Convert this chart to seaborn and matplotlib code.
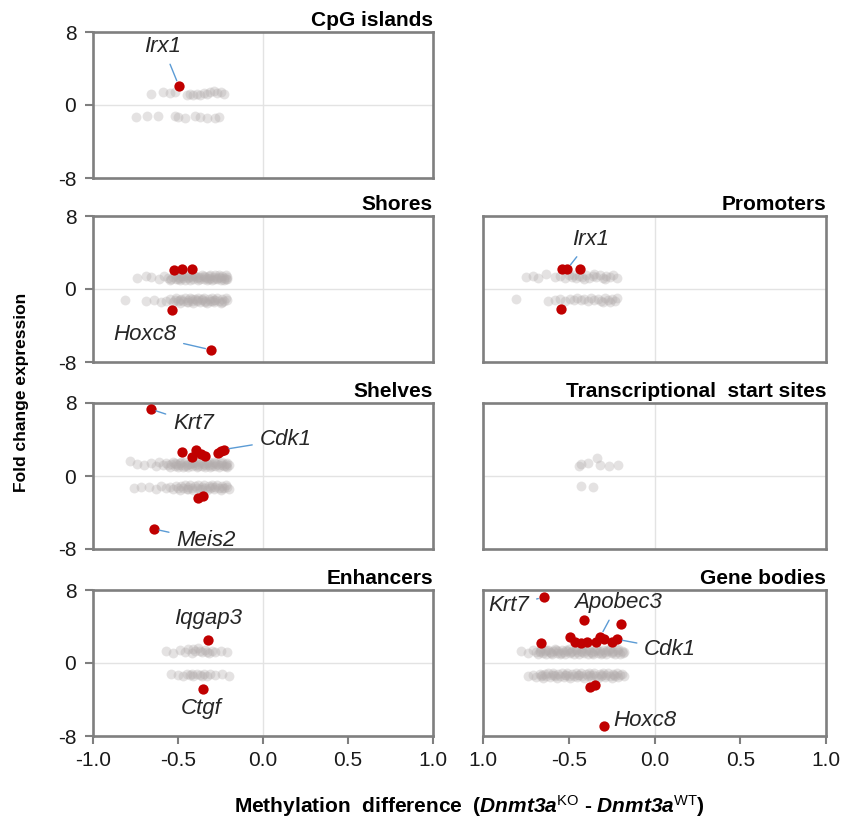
import matplotlib
matplotlib.use("Agg")
import matplotlib.pyplot as plt
import seaborn as sns

# ---- data ----
panel_titles = ["CpG islands", "Shores", "Promoters", "Shelves",
                "Transcriptional  start sites", "Enhancers", "Gene bodies"]

cpg_gray = [(-0.66, 1.2), (-0.59, 1.4), (-0.55, 1.3), (-0.52, 1.4), (-0.45, 1.1), (-0.43, 1.2),
            (-0.41, 1.1), (-0.39, 1.2), (-0.37, 1.1), (-0.35, 1.3), (-0.33, 1.2), (-0.31, 1.4),
            (-0.29, 1.5), (-0.27, 1.3), (-0.25, 1.4), (-0.23, 1.2),
            (-0.75, -1.3), (-0.68, -1.2), (-0.62, -1.2), (-0.52, -1.2), (-0.50, -1.3), (-0.46, -1.4),
            (-0.40, -1.2), (-0.37, -1.3), (-0.33, -1.4), (-0.28, -1.4), (-0.26, -1.3)]
cpg_red_x = [-0.495]
cpg_red_y = [2.1]

shores_gray = [(-0.74, 1.2), (-0.69, 1.4), (-0.66, 1.3), (-0.61, 1.1), (-0.58, 1.4), (-0.56, 1.2),
               (-0.55, 1.0), (-0.53, 1.3), (-0.52, 1.5), (-0.51, 1.1), (-0.50, 1.3), (-0.49, 1.0),
               (-0.48, 1.4), (-0.47, 1.2), (-0.46, 1.0), (-0.45, 1.5), (-0.44, 1.2), (-0.43, 1.0),
               (-0.42, 1.3), (-0.41, 1.1), (-0.40, 1.4), (-0.39, 1.2), (-0.38, 1.0), (-0.37, 1.3),
               (-0.36, 1.5), (-0.35, 1.1), (-0.34, 1.3), (-0.33, 1.0), (-0.32, 1.4), (-0.31, 1.2),
               (-0.30, 1.0), (-0.29, 1.3), (-0.28, 1.5), (-0.27, 1.1), (-0.26, 1.3), (-0.25, 1.0),
               (-0.24, 1.4), (-0.23, 1.2), (-0.22, 1.1), (-0.21, 1.3), (-0.54, 1.1), (-0.50, 1.1),
               (-0.47, 1.4), (-0.44, 1.3), (-0.41, 1.5), (-0.38, 1.3), (-0.35, 1.4), (-0.32, 1.1),
               (-0.29, 1.1), (-0.26, 1.5), (-0.23, 1.0), (-0.21, 1.1), (-0.49, 1.2), (-0.43, 1.4),
               (-0.37, 1.1), (-0.31, 1.5), (-0.25, 1.2), (-0.33, 1.2), (-0.27, 1.2), (-0.22, 1.5),
               (-0.81, -1.2), (-0.69, -1.3), (-0.64, -1.2), (-0.60, -1.4), (-0.57, -1.3), (-0.55, -1.1),
               (-0.53, -1.4), (-0.52, -1.2), (-0.51, -1.0), (-0.50, -1.3), (-0.49, -1.5), (-0.48, -1.1),
               (-0.47, -1.3), (-0.46, -1.0), (-0.45, -1.4), (-0.44, -1.2), (-0.43, -1.0), (-0.42, -1.3),
               (-0.41, -1.5), (-0.40, -1.1), (-0.39, -1.3), (-0.38, -1.0), (-0.37, -1.4), (-0.36, -1.2),
               (-0.35, -1.0), (-0.34, -1.3), (-0.33, -1.5), (-0.32, -1.1), (-0.31, -1.3), (-0.30, -1.0),
               (-0.29, -1.4), (-0.28, -1.2), (-0.27, -1.0), (-0.26, -1.3), (-0.25, -1.5), (-0.24, -1.1),
               (-0.23, -1.3), (-0.22, -1.0), (-0.21, -1.2), (-0.49, -1.2), (-0.44, -1.4), (-0.39, -1.2),
               (-0.34, -1.4), (-0.29, -1.2), (-0.24, -1.4), (-0.42, -1.1), (-0.36, -1.1), (-0.30, -1.3)]
shores_red_x = [-0.524, -0.478, -0.419, -0.534, -0.306]
shores_red_y = [2.05, 2.18, 2.2, -2.26, -6.67]

promoters_gray = [(-0.75, 1.3), (-0.71, 1.4), (-0.68, 1.2), (-0.63, 1.6), (-0.58, 1.3), (-0.55, 1.4),
                  (-0.52, 1.2), (-0.50, 1.5), (-0.48, 1.3), (-0.46, 1.2), (-0.44, 1.4), (-0.42, 1.3),
                  (-0.40, 1.5), (-0.38, 1.2), (-0.36, 1.4), (-0.34, 1.3), (-0.32, 1.5), (-0.30, 1.2),
                  (-0.28, 1.4), (-0.26, 1.3), (-0.24, 1.5), (-0.22, 1.2), (-0.47, 1.5), (-0.41, 1.1),
                  (-0.35, 1.6), (-0.29, 1.1),
                  (-0.81, -1.1), (-0.62, -1.3), (-0.58, -1.2), (-0.55, -1.1), (-0.52, -1.3), (-0.49, -1.1),
                  (-0.47, -1.2), (-0.45, -1.0), (-0.43, -1.2), (-0.41, -1.1), (-0.39, -1.3), (-0.37, -1.0),
                  (-0.35, -1.2), (-0.33, -1.1), (-0.31, -1.3), (-0.29, -1.0), (-0.27, -1.2), (-0.25, -1.1),
                  (-0.23, -1.3), (-0.22, -1.0), (-0.30, -1.4), (-0.26, -1.4)]
promoters_red_x = [-0.539, -0.510, -0.433, -0.543]
promoters_red_y = [2.17, 2.17, 2.2, -2.14]

shelves_gray = [(-0.78, 1.6), (-0.74, 1.3), (-0.70, 1.2), (-0.66, 1.4), (-0.63, 1.1), (-0.61, 1.5),
                (-0.59, 1.2), (-0.57, 1.4), (-0.55, 1.0), (-0.54, 1.3), (-0.53, 1.5), (-0.52, 1.1),
                (-0.51, 1.3), (-0.50, 1.0), (-0.49, 1.4), (-0.48, 1.2), (-0.47, 1.0), (-0.46, 1.5),
                (-0.45, 1.2), (-0.44, 1.0), (-0.43, 1.3), (-0.42, 1.1), (-0.41, 1.4), (-0.40, 1.2),
                (-0.39, 1.0), (-0.38, 1.3), (-0.37, 1.5), (-0.36, 1.1), (-0.35, 1.3), (-0.34, 1.0),
                (-0.33, 1.4), (-0.32, 1.2), (-0.31, 1.0), (-0.30, 1.3), (-0.29, 1.5), (-0.28, 1.1),
                (-0.27, 1.3), (-0.26, 1.0), (-0.25, 1.4), (-0.24, 1.2), (-0.23, 1.1), (-0.22, 1.3),
                (-0.21, 1.0), (-0.20, 1.2), (-0.56, 1.2), (-0.52, 1.4), (-0.48, 1.5), (-0.44, 1.3),
                (-0.40, 1.5), (-0.36, 1.4), (-0.32, 1.5), (-0.28, 1.4), (-0.24, 1.5), (-0.21, 1.4),
                (-0.50, 1.2), (-0.46, 1.1), (-0.42, 1.4), (-0.38, 1.1), (-0.34, 1.2), (-0.30, 1.1),
                (-0.26, 1.2), (-0.22, 1.1),
                (-0.76, -1.3), (-0.72, -1.2), (-0.67, -1.2), (-0.63, -1.4), (-0.60, -1.1), (-0.57, -1.3),
                (-0.55, -1.2), (-0.53, -1.4), (-0.51, -1.1), (-0.50, -1.3), (-0.49, -1.5), (-0.48, -1.1),
                (-0.47, -1.3), (-0.46, -1.0), (-0.45, -1.4), (-0.44, -1.2), (-0.43, -1.0), (-0.42, -1.3),
                (-0.41, -1.5), (-0.40, -1.1), (-0.39, -1.3), (-0.38, -1.0), (-0.37, -1.4), (-0.36, -1.2),
                (-0.35, -1.0), (-0.34, -1.3), (-0.33, -1.5), (-0.32, -1.1), (-0.31, -1.3), (-0.30, -1.0),
                (-0.29, -1.4), (-0.28, -1.2), (-0.27, -1.0), (-0.26, -1.3), (-0.25, -1.5), (-0.24, -1.1),
                (-0.23, -1.3), (-0.22, -1.0), (-0.21, -1.2), (-0.20, -1.4), (-0.44, -1.4), (-0.36, -1.4),
                (-0.30, -1.2), (-0.24, -1.3)]
shelves_red_x = [-0.661, -0.478, -0.394, -0.417, -0.364, -0.341, -0.267, -0.248, -0.232,
                 -0.384, -0.351, -0.643]
shelves_red_y = [7.33, 2.6, 2.8, 2.1, 2.36, 2.17, 2.47, 2.72, 2.9, -2.42, -2.17, -5.8]

tss_gray = [(-0.443, 1.14), (-0.43, 1.3), (-0.388, 1.42), (-0.335, 1.95), (-0.316, 1.25),
            (-0.267, 1.1), (-0.215, 1.25), (-0.43, -1.07), (-0.358, -1.17)]
tss_red_x = []
tss_red_y = []

enhancers_gray = [(-0.57, 1.3), (-0.53, 1.1), (-0.49, 1.4), (-0.46, 1.2), (-0.44, 1.5), (-0.42, 1.1),
                  (-0.40, 1.3), (-0.38, 1.6), (-0.36, 1.2), (-0.34, 1.4), (-0.32, 1.1), (-0.30, 1.3),
                  (-0.28, 1.2), (-0.25, 1.3), (-0.21, 1.2), (-0.41, 1.5), (-0.37, 1.3), (-0.33, 1.2),
                  (-0.54, -1.2), (-0.50, -1.3), (-0.47, -1.4), (-0.45, -1.2), (-0.43, -1.3), (-0.41, -1.4),
                  (-0.39, -1.2), (-0.37, -1.3), (-0.35, -1.2), (-0.33, -1.4), (-0.31, -1.2), (-0.28, -1.3),
                  (-0.24, -1.2), (-0.20, -1.4), (-0.42, -1.2), (-0.36, -1.4)]
enhancers_red_x = [-0.322, -0.355]
enhancers_red_y = [2.54, -2.8]

genebodies_gray = [(-0.78, 1.3), (-0.74, 1.1), (-0.71, 1.4), (-0.69, 1.2), (-0.68, 1.0), (-0.67, 1.3),
                   (-0.66, 1.5), (-0.65, 1.1), (-0.64, 1.3), (-0.63, 1.0), (-0.62, 1.4), (-0.61, 1.2),
                   (-0.60, 1.0), (-0.59, 1.3), (-0.58, 1.5), (-0.57, 1.1), (-0.56, 1.3), (-0.55, 1.0),
                   (-0.54, 1.4), (-0.53, 1.2), (-0.52, 1.0), (-0.51, 1.3), (-0.50, 1.5), (-0.49, 1.1),
                   (-0.48, 1.3), (-0.47, 1.0), (-0.46, 1.4), (-0.45, 1.2), (-0.44, 1.0), (-0.43, 1.3),
                   (-0.42, 1.5), (-0.41, 1.1), (-0.40, 1.3), (-0.39, 1.0), (-0.38, 1.4), (-0.37, 1.2),
                   (-0.36, 1.0), (-0.35, 1.3), (-0.34, 1.5), (-0.33, 1.1), (-0.32, 1.3), (-0.31, 1.0),
                   (-0.30, 1.4), (-0.29, 1.2), (-0.28, 1.0), (-0.27, 1.3), (-0.26, 1.5), (-0.25, 1.1),
                   (-0.24, 1.3), (-0.23, 1.0), (-0.22, 1.4), (-0.21, 1.2), (-0.20, 1.0), (-0.19, 1.3),
                   (-0.18, 1.2), (-0.665, 1.2), (-0.635, 1.4), (-0.605, 1.1), (-0.575, 1.4),
                   (-0.545, 1.1), (-0.515, 1.4), (-0.485, 1.2), (-0.455, 1.5), (-0.425, 1.2),
                   (-0.395, 1.5), (-0.365, 1.1), (-0.335, 1.4), (-0.305, 1.1), (-0.275, 1.4),
                   (-0.245, 1.2), (-0.215, 1.5), (-0.185, 1.1),
                   (-0.74, -1.4), (-0.71, -1.3), (-0.69, -1.5), (-0.67, -1.2), (-0.66, -1.4), (-0.65, -1.6),
                   (-0.64, -1.2), (-0.63, -1.4), (-0.62, -1.1), (-0.61, -1.5), (-0.60, -1.3), (-0.59, -1.1),
                   (-0.58, -1.4), (-0.57, -1.6), (-0.56, -1.2), (-0.55, -1.4), (-0.54, -1.1), (-0.53, -1.5),
                   (-0.52, -1.3), (-0.51, -1.1), (-0.50, -1.4), (-0.49, -1.6), (-0.48, -1.2), (-0.47, -1.4),
                   (-0.46, -1.1), (-0.45, -1.5), (-0.44, -1.3), (-0.43, -1.1), (-0.42, -1.4), (-0.41, -1.6),
                   (-0.40, -1.2), (-0.39, -1.4), (-0.38, -1.1), (-0.37, -1.5), (-0.36, -1.3), (-0.35, -1.1),
                   (-0.34, -1.4), (-0.33, -1.6), (-0.32, -1.2), (-0.31, -1.4), (-0.30, -1.1), (-0.29, -1.5),
                   (-0.28, -1.3), (-0.27, -1.1), (-0.26, -1.4), (-0.25, -1.6), (-0.24, -1.2), (-0.23, -1.4),
                   (-0.22, -1.1), (-0.21, -1.5), (-0.20, -1.3), (-0.19, -1.2), (-0.18, -1.4),
                   (-0.655, -1.3), (-0.585, -1.3), (-0.515, -1.3), (-0.445, -1.3), (-0.375, -1.3),
                   (-0.305, -1.3), (-0.235, -1.3)]
genebodies_red_x = [-0.646, -0.413, -0.196, -0.664, -0.49, -0.465, -0.43, -0.394, -0.34, -0.316,
                    -0.293, -0.248, -0.219, -0.374, -0.345, -0.297]
genebodies_red_y = [7.2, 4.7, 4.3, 2.14, 2.9, 2.3, 2.2, 2.25, 2.25, 2.9, 2.6, 2.25, 2.6,
                    -2.62, -2.36, -6.92]

# gene labels: (text, point x, point y, text x, text y, ha, draw line)
cpg_labels = [("Irx1", -0.495, 2.1, -0.589, 6.4, "center", True)]
shores_labels = [("Hoxc8", -0.306, -6.67, -0.51, -5.0, "right", True)]
promoters_labels = [("Irx1", -0.510, 2.17, -0.375, 5.4, "center", True)]
shelves_labels = [("Krt7", -0.661, 7.33, -0.53, 5.8, "left", True),
                  ("Cdk1", -0.232, 2.9, -0.02, 4.0, "left", True),
                  ("Meis2", -0.643, -5.8, -0.51, -7.05, "left", True)]
tss_labels = []
enhancers_labels = [("Iqgap3", -0.322, 2.54, -0.32, 4.85, "center", False),
                    ("Ctgf", -0.355, -2.8, -0.364, -4.95, "center", False)]
genebodies_labels = [("Krt7", -0.646, 7.2, -0.73, 6.3, "right", True),
                     ("Apobec3", -0.316, 2.9, -0.21, 6.6, "center", True),
                     ("Cdk1", -0.219, 2.6, -0.06, 1.5, "left", True),
                     ("Hoxc8", -0.297, -6.92, -0.24, -6.3, "left", False)]

x_ticks = [-1.0, -0.5, 0.0, 0.5, 1.0]
x_ticklabels_left = ["-1.0", "-0.5", "0.0", "0.5", "1.0"]
x_ticklabels_right = ["1.0", "-0.5", "0.0", "0.5", "1.0"]
y_ticks = [-8, 0, 8]
y_ticklabels = ["-8", "0", "8"]

# ---- style ----
sns.set_style("white")
plt.rcParams["font.family"] = ["Liberation Sans", "DejaVu Sans"]
plt.rcParams["text.color"] = "black"
plt.rcParams["xtick.color"] = "#1a1a1a"
plt.rcParams["ytick.color"] = "#1a1a1a"
plt.rcParams["mathtext.fontset"] = "custom"
plt.rcParams["mathtext.rm"] = "Liberation Sans"
plt.rcParams["mathtext.it"] = "Liberation Sans:italic"
plt.rcParams["mathtext.bf"] = "Liberation Sans:bold"
plt.rcParams["mathtext.bfit"] = "Liberation Sans:bold:italic"

GRAY = "#b3adad"
RED = "#c00000"
SPINE = "#7f7f7f"
LINE = "#5b9bd5"

W, H = 846, 824
fig = plt.figure(figsize=(W / 100, H / 100), dpi=100)

col_left = [93, 483]
col_width = [340, 343]
row_top = [32, 216, 403, 590]
row_h = 146


def make_ax(row, col):
    l = col_left[col] / W
    b = 1 - (row_top[row] + row_h) / H
    return fig.add_axes([l, b, col_width[col] / W, row_h / H])


panels = [
    (0, 0, "CpG islands", cpg_gray, cpg_red_x, cpg_red_y, cpg_labels),
    (1, 0, "Shores", shores_gray, shores_red_x, shores_red_y, shores_labels),
    (1, 1, "Promoters", promoters_gray, promoters_red_x, promoters_red_y, promoters_labels),
    (2, 0, "Shelves", shelves_gray, shelves_red_x, shelves_red_y, shelves_labels),
    (2, 1, "Transcriptional  start sites", tss_gray, tss_red_x, tss_red_y, tss_labels),
    (3, 0, "Enhancers", enhancers_gray, enhancers_red_x, enhancers_red_y, enhancers_labels),
    (3, 1, "Gene bodies", genebodies_gray, genebodies_red_x, genebodies_red_y, genebodies_labels),
]

for row, col, title, gray, rx, ry, labels in panels:
    ax = make_ax(row, col)
    ax.axhline(0, color="#e3e3e3", lw=1, zorder=0)
    ax.axvline(0, color="#e3e3e3", lw=1, zorder=0)
    gx = [p[0] for p in gray]
    gy = [p[1] for p in gray]
    sns.scatterplot(x=gx, y=gy, ax=ax, color=GRAY, s=50, alpha=0.35, linewidth=0, zorder=2)
    if rx:
        sns.scatterplot(x=rx, y=ry, ax=ax, color=RED, s=55, linewidth=0, zorder=3)
    for txt, px, py, tx, ty, ha, line in labels:
        if line:
            ax.annotate(txt, xy=(px, py), xytext=(tx, ty), ha=ha, va="center",
                        fontsize=16, style="italic", color="#262626",
                        arrowprops=dict(arrowstyle="-", color=LINE, lw=1, shrinkA=3, shrinkB=4))
        else:
            ax.text(tx, ty, txt, ha=ha, va="center", fontsize=16, style="italic", color="#262626")
    ax.set_xlim(-1, 1)
    ax.set_ylim(-8, 8)
    for s in ax.spines.values():
        s.set_color(SPINE)
        s.set_linewidth(1.9)
    ax.set_title(title, loc="right", fontsize=15, fontweight="bold", pad=4)
    if col == 0:
        ax.set_yticks(y_ticks)
        ax.set_yticklabels(y_ticklabels, fontsize=15)
        ax.tick_params(axis="y", left=True, length=6, width=1.5, color=SPINE, pad=6)
    else:
        ax.set_yticks([])
    if row == 3:
        ax.set_xticks(x_ticks)
        ax.set_xticklabels(x_ticklabels_left if col == 0 else x_ticklabels_right, fontsize=15)
        ax.tick_params(axis="x", bottom=True, length=6, width=1.5, color=SPINE, pad=5)
    else:
        ax.set_xticks([])

fig.text(22 / W, 1 - 392 / H, "Fold change expression", rotation=90, ha="center", va="center",
         fontsize=12.5, fontweight="bold")
fig.text(469 / W, 1 - 806 / H,
         r"Methylation  difference  ($\mathbfit{Dnmt3a}^{\mathrm{KO}}$ - $\mathbfit{Dnmt3a}^{\mathrm{WT}}$)",
         ha="center", va="center", fontsize=15, fontweight="bold")

fig.savefig("out.png", dpi=100)
